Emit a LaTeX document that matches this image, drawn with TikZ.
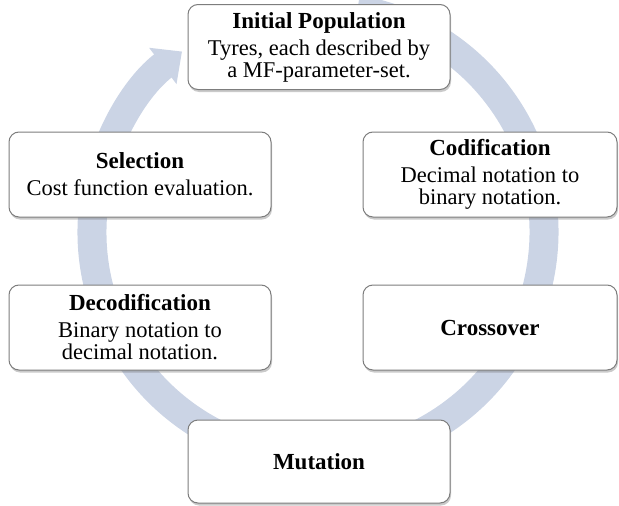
\documentclass[tikz,border=0pt]{standalone}
\usepackage{fontspec}
\setmainfont{Liberation Serif}
\usetikzlibrary{arrows.meta,shadows,calc}
\definecolor{ringc}{RGB}{203,212,229}
\definecolor{edgec}{RGB}{125,125,125}
\newcommand{\stitle}[1]{{\fontsize{23}{23}\selectfont\textbf{#1}}}
\begin{document}
\begin{tikzpicture}[x=1pt,y=1pt,
  stagebox/.style={draw=edgec, line width=1pt, fill=white, rounded corners=10pt,
    minimum width=262pt, minimum height=85pt, inner sep=0pt, align=center,
    font=\fontsize{22.5}{22}\selectfont,
    drop shadow={shadow xshift=1pt, shadow yshift=-2.5pt, opacity=0.35, fill=black!60}},
  ring/.style={ringc, line width=29pt, -{Triangle[width=44pt,length=24pt]}}]
\useasboundingbox (0,0) rectangle (619,-506);
\coordinate (c) at (318,-232);
\draw[ring] ($(c)+(80:226)$) arc[start angle=80, end angle=-233, radius=226];
\node[stagebox] (ip) at (319,-47) {\stitle{Initial Population}\\[5pt]Tyres, each described by\\a MF-parameter-set.};
\node[stagebox] (sel) at (140,-174.5) {\stitle{Selection}\\[5pt]Cost function evaluation.};
\node[stagebox, minimum width=254pt] (cod) at (490,-174.5) {\stitle{Codification}\\[5pt]Decimal notation to\\binary notation.};
\node[stagebox] (dec) at (140,-327.5) {\stitle{Decodification}\\[5pt]Binary notation to\\decimal notation.};
\node[stagebox, minimum width=254pt] (cro) at (490,-327.5) {\stitle{Crossover}};
\node[stagebox, minimum height=83pt] (mut) at (319,-461.5) {\stitle{Mutation}};
\end{tikzpicture}
\end{document}
